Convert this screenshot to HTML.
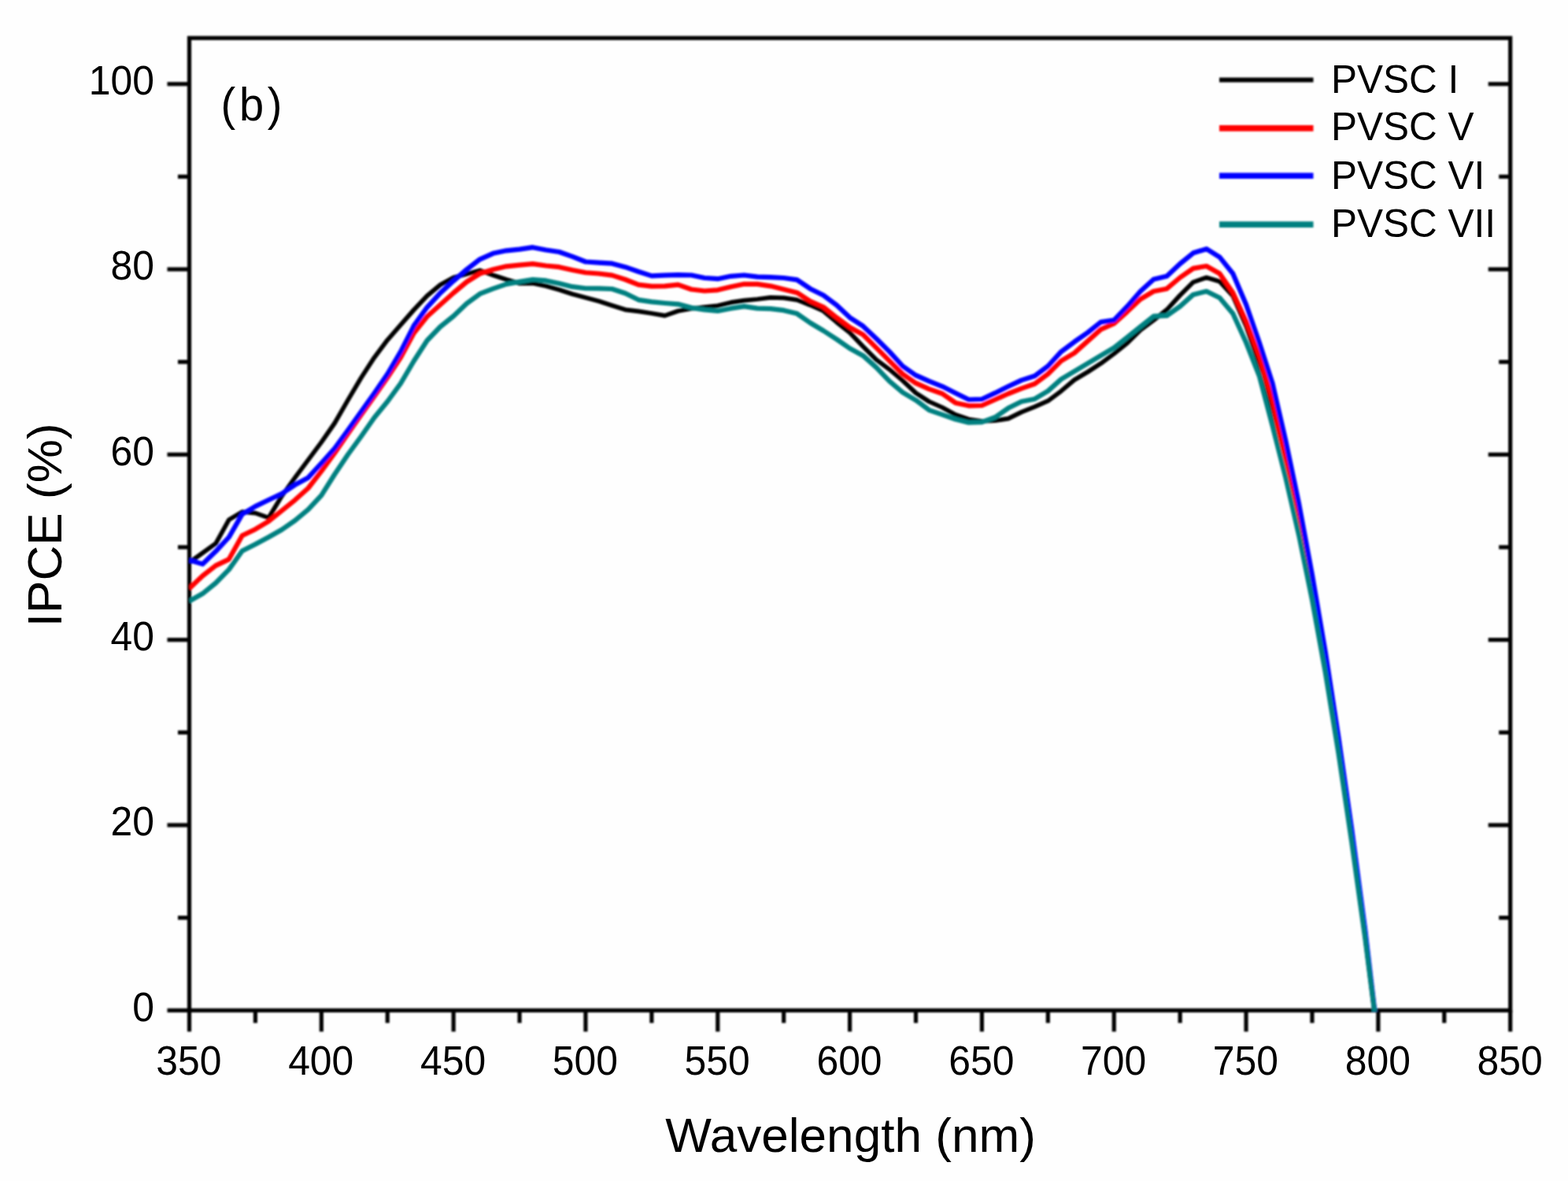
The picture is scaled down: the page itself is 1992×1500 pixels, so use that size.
<!DOCTYPE html>
<html lang="en"><head><meta charset="utf-8"><title>IPCE spectra</title>
<style>html,body{margin:0;padding:0;background:#fefefe;}body{width:1992px;height:1500px;overflow:hidden;}svg{display:block;}text{font-family:"Liberation Sans", Arial, Helvetica, sans-serif;fill:#000;}</style></head><body>
<svg width="1992" height="1500" viewBox="0 0 1992 1500">
<defs><filter id="soft" x="0" y="0" width="1992" height="1500" filterUnits="userSpaceOnUse"><feGaussianBlur stdDeviation="0.8"/></filter>
<clipPath id="pc"><rect x="240.5" y="48.3" width="1678.2" height="1236.5"/></clipPath></defs>
<rect width="1992" height="1500" fill="#fefefe"/>
<g filter="url(#soft)">
<g stroke="#000" stroke-width="5.2" fill="none" stroke-linecap="butt">
<rect x="240.5" y="48.3" width="1678.2" height="1235"/>
<line x1="240.5" y1="1283.3" x2="240.5" y2="1310.3"/>
<line x1="324.41" y1="1283.3" x2="324.41" y2="1299.3"/>
<line x1="408.32" y1="1283.3" x2="408.32" y2="1310.3"/>
<line x1="492.23" y1="1283.3" x2="492.23" y2="1299.3"/>
<line x1="576.14" y1="1283.3" x2="576.14" y2="1310.3"/>
<line x1="660.05" y1="1283.3" x2="660.05" y2="1299.3"/>
<line x1="743.96" y1="1283.3" x2="743.96" y2="1310.3"/>
<line x1="827.87" y1="1283.3" x2="827.87" y2="1299.3"/>
<line x1="911.78" y1="1283.3" x2="911.78" y2="1310.3"/>
<line x1="995.69" y1="1283.3" x2="995.69" y2="1299.3"/>
<line x1="1079.6" y1="1283.3" x2="1079.6" y2="1310.3"/>
<line x1="1163.51" y1="1283.3" x2="1163.51" y2="1299.3"/>
<line x1="1247.42" y1="1283.3" x2="1247.42" y2="1310.3"/>
<line x1="1331.33" y1="1283.3" x2="1331.33" y2="1299.3"/>
<line x1="1415.24" y1="1283.3" x2="1415.24" y2="1310.3"/>
<line x1="1499.15" y1="1283.3" x2="1499.15" y2="1299.3"/>
<line x1="1583.06" y1="1283.3" x2="1583.06" y2="1310.3"/>
<line x1="1666.97" y1="1283.3" x2="1666.97" y2="1299.3"/>
<line x1="1750.88" y1="1283.3" x2="1750.88" y2="1310.3"/>
<line x1="1834.79" y1="1283.3" x2="1834.79" y2="1299.3"/>
<line x1="1918.7" y1="1283.3" x2="1918.7" y2="1310.3"/>
<line x1="212.5" y1="1283.3" x2="240.5" y2="1283.3"/>
<line x1="226" y1="1165.64" x2="240.5" y2="1165.64"/>
<line x1="1904.2" y1="1165.64" x2="1918.7" y2="1165.64"/>
<line x1="212.5" y1="1047.98" x2="240.5" y2="1047.98"/>
<line x1="1890.7" y1="1047.98" x2="1918.7" y2="1047.98"/>
<line x1="226" y1="930.32" x2="240.5" y2="930.32"/>
<line x1="1904.2" y1="930.32" x2="1918.7" y2="930.32"/>
<line x1="212.5" y1="812.66" x2="240.5" y2="812.66"/>
<line x1="1890.7" y1="812.66" x2="1918.7" y2="812.66"/>
<line x1="226" y1="695" x2="240.5" y2="695"/>
<line x1="1904.2" y1="695" x2="1918.7" y2="695"/>
<line x1="212.5" y1="577.34" x2="240.5" y2="577.34"/>
<line x1="1890.7" y1="577.34" x2="1918.7" y2="577.34"/>
<line x1="226" y1="459.68" x2="240.5" y2="459.68"/>
<line x1="1904.2" y1="459.68" x2="1918.7" y2="459.68"/>
<line x1="212.5" y1="342.02" x2="240.5" y2="342.02"/>
<line x1="1890.7" y1="342.02" x2="1918.7" y2="342.02"/>
<line x1="226" y1="224.36" x2="240.5" y2="224.36"/>
<line x1="1904.2" y1="224.36" x2="1918.7" y2="224.36"/>
<line x1="212.5" y1="106.7" x2="240.5" y2="106.7"/>
<line x1="1890.7" y1="106.7" x2="1918.7" y2="106.7"/>
</g>
<g fill="none" stroke-linejoin="round" stroke-linecap="butt" clip-path="url(#pc)">
<polyline stroke="#000000" stroke-width="5.7" points="240.5,714.48 257.28,702.43 274.06,690.28 290.85,660.16 307.63,650.12 324.41,651.63 341.19,657.65 357.97,630.04 374.76,606.67 391.54,584.17 408.32,561.67 425.1,537.5 441.88,508.33 458.67,480 475.45,454.17 492.23,431.8 509.01,412.6 525.79,393.5 542.58,375.7 559.36,361.7 576.14,352.6 592.92,348 609.7,343.4 626.49,349.5 643.27,355 660.05,360 676.83,359.83 693.61,363.33 710.4,368 727.18,373.5 743.96,377.92 760.74,382.58 777.52,388 794.31,393.33 811.09,395.33 827.87,398 844.65,400.83 861.43,395 878.22,392 895,390 911.78,388.33 928.56,384.17 945.34,381.67 962.13,380 978.91,377.92 995.69,378.33 1012.47,380.83 1029.25,387.5 1046.04,395 1062.82,409.17 1079.6,422.5 1096.38,440 1113.16,456.67 1129.95,469.17 1146.73,483.33 1163.51,499.17 1180.29,510 1197.07,517.5 1213.86,526.67 1230.64,532.5 1247.42,535 1264.2,534.17 1280.98,531.67 1297.77,523.33 1314.55,516.67 1331.33,509.17 1348.11,496.67 1364.89,482.5 1381.68,472.5 1398.46,461.67 1415.24,449.17 1432.02,435.83 1448.8,419.17 1465.59,406.67 1482.37,393.33 1499.15,375 1515.93,358.33 1532.71,352.5 1549.5,357.5 1566.28,375.83 1583.06,414 1599.84,462 1616.62,522 1633.41,594 1650.19,670 1666.97,753 1683.75,847 1700.53,952 1717.32,1066 1734.1,1187 1750.88,1322"/>
<polyline stroke="#ff0000" stroke-width="6.2" points="240.5,747.51 257.28,731.45 274.06,718.39 290.85,710.36 307.63,680.24 324.41,672.21 341.19,662.17 357.97,648.61 374.76,635.06 391.54,620 408.32,598.33 425.1,575.5 441.88,551 458.67,527 475.45,503.5 492.23,479.5 509.01,454 525.79,423 542.58,402 559.36,387 576.14,372 592.92,358 609.7,347.5 626.49,342.2 643.27,338.33 660.05,336.67 676.83,335.17 693.61,337.5 710.4,339.17 727.18,342.92 743.96,346.25 760.74,347.5 777.52,349.67 794.31,355 811.09,361.67 827.87,363.67 844.65,363.33 861.43,361.67 878.22,367.5 895,369.5 911.78,368.33 928.56,364.17 945.34,360.83 962.13,360.83 978.91,363.33 995.69,367.5 1012.47,371.67 1029.25,382.5 1046.04,390 1062.82,403.33 1079.6,415.83 1096.38,425 1113.16,441.67 1129.95,458.33 1146.73,475 1163.51,486.67 1180.29,494.17 1197.07,500 1213.86,511.67 1230.64,515.33 1247.42,515 1264.2,507.5 1280.98,500 1297.77,493.33 1314.55,487.5 1331.33,475 1348.11,458.33 1364.89,448.33 1381.68,433.33 1398.46,418.33 1415.24,410.83 1432.02,395.83 1448.8,380 1465.59,370 1482.37,366.67 1499.15,352.5 1515.93,340.83 1532.71,338 1549.5,347.5 1566.28,371.67 1583.06,408.33 1599.84,453.33 1616.62,509 1633.41,585 1650.19,662 1666.97,746 1683.75,842 1700.53,948 1717.32,1062 1734.1,1185 1750.88,1322"/>
<polyline stroke="#0000ff" stroke-width="6.2" points="240.5,711.37 257.28,716.39 274.06,700.32 290.85,682.25 307.63,653.13 324.41,643.09 341.19,635.06 357.97,627.03 374.76,615.83 391.54,606.67 408.32,588.33 425.1,569.5 441.88,546.5 458.67,523 475.45,499.5 492.23,475 509.01,446.6 525.79,413.6 542.58,390.3 559.36,372.1 576.14,356.8 592.92,342.2 609.7,329.3 626.49,321.8 643.27,318.33 660.05,316.67 676.83,314.17 693.61,317.5 710.4,320 727.18,325.83 743.96,332.5 760.74,333.67 777.52,334.67 794.31,339.17 811.09,345 827.87,350.33 844.65,349.67 861.43,349.17 878.22,349.5 895,353 911.78,354.17 928.56,350.83 945.34,349.5 962.13,351.67 978.91,352.08 995.69,353 1012.47,355.33 1029.25,366.67 1046.04,375 1062.82,387.5 1079.6,403.33 1096.38,414.17 1113.16,430 1129.95,446.67 1146.73,465 1163.51,476.67 1180.29,484.17 1197.07,490.83 1213.86,499.17 1230.64,507.5 1247.42,507 1264.2,499.17 1280.98,490.83 1297.77,482.92 1314.55,477.5 1331.33,465 1348.11,446.67 1364.89,434.17 1381.68,422.5 1398.46,409.17 1415.24,406.67 1432.02,389.17 1448.8,370 1465.59,354.67 1482.37,350.83 1499.15,335 1515.93,321.33 1532.71,316.17 1549.5,326.67 1566.28,347.5 1583.06,386.67 1599.84,435 1616.62,487 1633.41,560 1650.19,640 1666.97,730 1683.75,828 1700.53,937 1717.32,1054 1734.1,1180 1750.88,1322"/>
<polyline stroke="#008080" stroke-width="6.2" points="240.5,763.57 257.28,754.04 274.06,740.48 290.85,723.41 307.63,699.82 324.41,691.29 341.19,682.25 357.97,672.71 374.76,661.16 391.54,647.11 408.32,629.04 425.1,602.5 441.88,577.5 458.67,554.5 475.45,530.5 492.23,510 509.01,487 525.79,458.5 542.58,432.5 559.36,415 576.14,401.5 592.92,385.5 609.7,373.2 626.49,366.6 643.27,360.83 660.05,357.92 676.83,355 693.61,356.42 710.4,360 727.18,364.17 743.96,366.25 760.74,366.42 777.52,367 794.31,372.5 811.09,380.83 827.87,383.33 844.65,385 861.43,386.33 878.22,390.83 895,393.33 911.78,395 928.56,391.67 945.34,389.17 962.13,391.67 978.91,392.08 995.69,394.17 1012.47,398.33 1029.25,410 1046.04,420 1062.82,430.83 1079.6,442.5 1096.38,451.67 1113.16,466.67 1129.95,484.17 1146.73,498.33 1163.51,508.33 1180.29,520.83 1197.07,526.67 1213.86,532.5 1230.64,536.67 1247.42,536.17 1264.2,530 1280.98,518.33 1297.77,510 1314.55,506.67 1331.33,496.67 1348.11,481.67 1364.89,471.67 1381.68,461.67 1398.46,451.67 1415.24,441.67 1432.02,428.33 1448.8,415 1465.59,401.67 1482.37,400.83 1499.15,389.17 1515.93,374.17 1532.71,370 1549.5,378.33 1566.28,398.33 1583.06,435 1599.84,477.5 1616.62,541 1633.41,607 1650.19,680 1666.97,762 1683.75,854 1700.53,957 1717.32,1070 1734.1,1190 1750.88,1322"/>
</g>
</g>
<g filter="url(#soft)">
<line x1="1549" y1="101.5" x2="1668.5" y2="101.5" stroke="#000000" stroke-width="6"/>
<line x1="1549" y1="162.9" x2="1668.5" y2="162.9" stroke="#ff0000" stroke-width="7.6"/>
<line x1="1549" y1="223.2" x2="1668.5" y2="223.2" stroke="#0000ff" stroke-width="7.6"/>
<line x1="1549" y1="285.1" x2="1668.5" y2="285.1" stroke="#008080" stroke-width="7.6"/>
</g>
<g>
<text transform="translate(239.9 1364.8) scale(0.95 1)" font-size="52.5" text-anchor="middle">350</text>
<text transform="translate(407.72 1364.8) scale(0.95 1)" font-size="52.5" text-anchor="middle">400</text>
<text transform="translate(575.54 1364.8) scale(0.95 1)" font-size="52.5" text-anchor="middle">450</text>
<text transform="translate(743.36 1364.8) scale(0.95 1)" font-size="52.5" text-anchor="middle">500</text>
<text transform="translate(911.18 1364.8) scale(0.95 1)" font-size="52.5" text-anchor="middle">550</text>
<text transform="translate(1079 1364.8) scale(0.95 1)" font-size="52.5" text-anchor="middle">600</text>
<text transform="translate(1246.82 1364.8) scale(0.95 1)" font-size="52.5" text-anchor="middle">650</text>
<text transform="translate(1414.64 1364.8) scale(0.95 1)" font-size="52.5" text-anchor="middle">700</text>
<text transform="translate(1582.46 1364.8) scale(0.95 1)" font-size="52.5" text-anchor="middle">750</text>
<text transform="translate(1750.28 1364.8) scale(0.95 1)" font-size="52.5" text-anchor="middle">800</text>
<text transform="translate(1918.1 1364.8) scale(0.95 1)" font-size="52.5" text-anchor="middle">850</text>
<text transform="translate(196 1296.5) scale(0.95 1)" font-size="52.5" text-anchor="end">0</text>
<text transform="translate(196 1061.18) scale(0.95 1)" font-size="52.5" text-anchor="end">20</text>
<text transform="translate(196 825.86) scale(0.95 1)" font-size="52.5" text-anchor="end">40</text>
<text transform="translate(196 590.54) scale(0.95 1)" font-size="52.5" text-anchor="end">60</text>
<text transform="translate(196 355.22) scale(0.95 1)" font-size="52.5" text-anchor="end">80</text>
<text transform="translate(196 119.9) scale(0.95 1)" font-size="52.5" text-anchor="end">100</text>
<text transform="translate(1080.6 1462.7) scale(1.01 1)" font-size="61.5" text-anchor="middle">Wavelength (nm)</text>
<text transform="translate(77.5 666.8) rotate(-90) scale(1.01 1)" font-size="61.5" text-anchor="middle">IPCE (%)</text>
<text letter-spacing="5" transform="translate(280.5 152.8) scale(0.95 1)" font-size="59">(b)</text>
<text transform="translate(1691 117.6) scale(0.99 1)" font-size="50">PVSC I</text>
<text transform="translate(1691 177.6) scale(0.99 1)" font-size="50">PVSC V</text>
<text transform="translate(1691 240.1) scale(0.99 1)" font-size="50">PVSC VI</text>
<text transform="translate(1691 300.5) scale(0.99 1)" font-size="50">PVSC VII</text>
</g>
</svg></body></html>
